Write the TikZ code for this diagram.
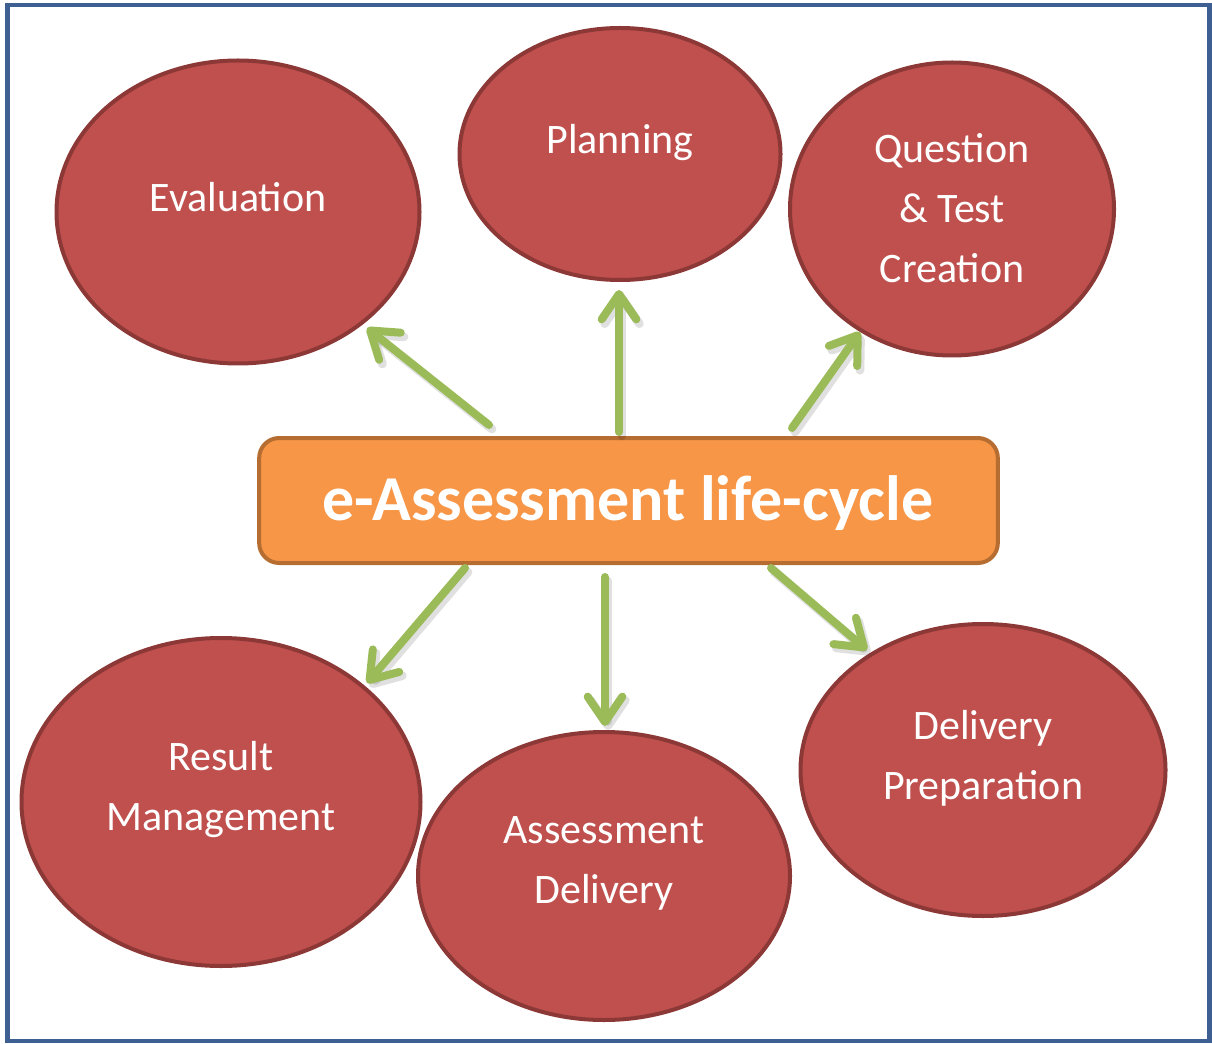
\documentclass[tikz,border=0pt]{standalone}
\usepackage{fontspec}
\setmainfont{Carlito}
\usetikzlibrary{shapes.geometric,arrows.meta}
\definecolor{frameblue}{RGB}{62,95,145}
\definecolor{ellfill}{RGB}{192,80,77}
\definecolor{elldraw}{RGB}{140,56,54}
\definecolor{boxfill}{RGB}{247,150,70}
\definecolor{boxdraw}{RGB}{182,109,49}
\definecolor{arrgreen}{RGB}{155,187,89}
\tikzset{
  ell/.style={ellipse, fill=ellfill, draw=elldraw, line width=3pt, inner sep=0pt},
  lbl/.style={text=white, align=center, font=\fontsize{31.5}{45}\selectfont, inner sep=0pt},
  mainbox/.style={rectangle, rounded corners=15pt, fill=boxfill, draw=boxdraw, line width=3pt,
    minimum width=554pt, minimum height=93.75pt, inner sep=0pt},
  garrow/.style={draw=arrgreen, line width=6pt, line cap=round,
    -{Straight Barb[length=19pt, width=26pt, round]}},
  gshadow/.style={draw=black, opacity=0.12, line width=6.5pt, line cap=round,
    -{Straight Barb[length=19pt, width=26pt, round]}}
}
\begin{document}
\begin{tikzpicture}[x=0.75pt,y=-0.75pt]
\useasboundingbox (0,0) rectangle (1212,1044);
\node[draw=frameblue, line width=3.6pt, minimum width=902pt, minimum height=777pt, inner sep=0pt] (frame) at (608.5,523) {};

% ellipses
\node[ell, minimum width=272.25pt, minimum height=227.25pt] (eval) at (238,212) {};
\node[ell, minimum width=240.75pt, minimum height=189pt] (plan) at (620,154) {};
\node[ell, minimum width=243pt, minimum height=219.75pt] (quest) at (952,209) {};
\node[ell, minimum width=299.25pt, minimum height=246pt] (result) at (221,802) {};
\node[ell, minimum width=279pt, minimum height=216pt] (deliv) at (604,876) {};
\node[ell, minimum width=273.75pt, minimum height=219pt] (prep) at (983,770) {};

% labels
\node[lbl] (evalT) at (238,197) {Evaluation};
\node[lbl] (planT) at (620,143) {Planning};
\node[lbl] (questT) at (952,208) {Question\\\&~Test\\Creation};
\node[lbl] (resultT) at (221,790) {Result\\Management};
\node[lbl] (delivT) at (604,863) {Assessment\\Delivery};
\node[lbl] (prepT) at (983,758) {Delivery\\Preparation};

% central box
\node[mainbox] (box) at (628.5,500.5) {};
\node[text=white, font=\fontsize{48}{58}\selectfont\bfseries, inner sep=0pt] (boxT) at (628,503) {e-Assessment life-cycle};

% arrow endpoints
\coordinate (s1) at (489,425); \coordinate (e1) at (367,328);
\coordinate (s2) at (619,432); \coordinate (e2) at (619,290);
\coordinate (s3) at (792,428); \coordinate (e3) at (860,332);
\coordinate (s4) at (465,568); \coordinate (e4) at (367,683);
\coordinate (s5) at (605,577); \coordinate (e5) at (605,726);
\coordinate (s6) at (771,568); \coordinate (e6) at (867,650);

\foreach \i in {1,...,6}{
  \draw[gshadow] ([shift={(3,4)}]s\i) -- ([shift={(3,4)}]e\i);
}
\foreach \i in {1,...,6}{
  \draw[garrow] (s\i) -- (e\i);
}
\end{tikzpicture}
\end{document}
